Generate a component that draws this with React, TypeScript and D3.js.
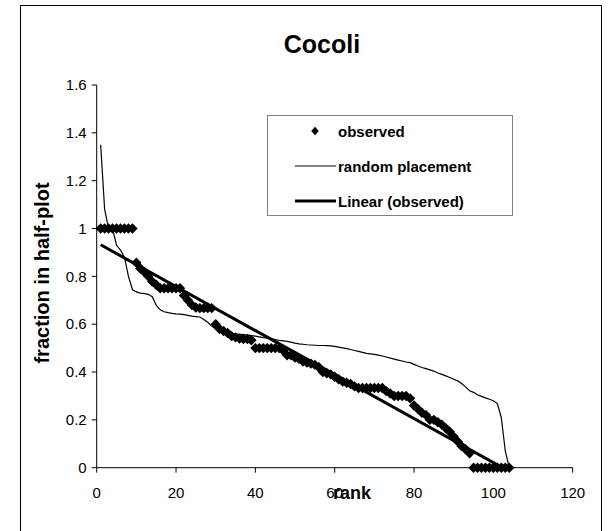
import React from "react";
import * as d3 from "d3";

const ranks: number[] = d3.range(1, 105);

const observed: number[] = [
  1, 1, 1, 1, 1, 1, 1, 1, 1,
  0.857, 0.833, 0.818, 0.8, 0.778, 0.765, 0.75, 0.75, 0.75, 0.75, 0.75, 0.75,
  0.72, 0.7, 0.68, 0.67, 0.667, 0.667, 0.667, 0.667,
  0.6, 0.58, 0.571, 0.563, 0.55, 0.545, 0.54, 0.538, 0.538, 0.533,
  0.5, 0.5, 0.5, 0.5, 0.5, 0.5, 0.5,
  0.49, 0.47, 0.47, 0.46, 0.455, 0.444, 0.44, 0.435, 0.43, 0.42,
  0.4, 0.395, 0.39, 0.38, 0.37, 0.36, 0.355, 0.35, 0.34,
  0.333, 0.333, 0.333, 0.333, 0.333, 0.333, 0.333,
  0.32, 0.31, 0.3, 0.3, 0.3, 0.3, 0.29, 0.26, 0.245, 0.23, 0.22, 0.2, 0.2,
  0.19, 0.18, 0.165, 0.15, 0.13, 0.11, 0.09, 0.077, 0.06,
  0, 0, 0, 0, 0, 0, 0, 0, 0, 0,
];

const randomPlacement: number[] = [
  1.35, 1.08, 1.0, 1.0, 0.93, 0.91, 0.88, 0.8, 0.745, 0.735,
  0.73, 0.728, 0.725, 0.715, 0.68, 0.66, 0.652, 0.648, 0.645, 0.643,
  0.642, 0.64, 0.637, 0.634, 0.632, 0.63, 0.62, 0.608, 0.592, 0.58,
  0.572, 0.567, 0.564, 0.562, 0.56, 0.558, 0.556, 0.554, 0.552, 0.55,
  0.547, 0.544, 0.542, 0.54, 0.536, 0.532, 0.53, 0.528, 0.525, 0.521,
  0.518, 0.516, 0.514, 0.513, 0.512, 0.511, 0.511, 0.51, 0.509, 0.507,
  0.504, 0.501, 0.498, 0.494, 0.49, 0.486, 0.482, 0.478, 0.476, 0.474,
  0.471, 0.467, 0.463, 0.458, 0.454, 0.45, 0.446, 0.442, 0.439, 0.432,
  0.425, 0.419, 0.414, 0.409, 0.404, 0.396, 0.39, 0.384, 0.377, 0.37,
  0.363, 0.352, 0.338, 0.322, 0.315, 0.305, 0.298, 0.292, 0.286, 0.28,
  0.268, 0.21, 0.07, 0,
];

const xTicks: number[] = [0, 20, 40, 60, 80, 100, 120];
const yTicks: number[] = [0, 0.2, 0.4, 0.6, 0.8, 1, 1.2, 1.4, 1.6];
const title = "Cocoli";
const xTitle = "rank";
const yTitle = "fraction in half-plot";
const legendLabels: string[] = ["observed", "random placement", "Linear (observed)"];

const W = 610;
const H = 531;
const FONT = "Arial, 'Liberation Sans', Helvetica, sans-serif";

export default function App() {
  const x = d3.scaleLinear().domain([0, 120]).range([96.7, 572.7]);
  const y = d3.scaleLinear().domain([0, 1.6]).range([467.7, 85]);

  // least squares fit
  const mx = d3.mean(ranks) as number;
  const my = d3.mean(observed) as number;
  let sxy = 0;
  let sxx = 0;
  ranks.forEach((r, i) => {
    sxy += (r - mx) * (observed[i] - my);
    sxx += (r - mx) * (r - mx);
  });
  const slope = sxy / sxx;
  const intercept = my - slope * mx;
  const fit = (r: number) => intercept + slope * r;
  const r0 = ranks[0];
  const r1 = ranks[ranks.length - 1];

  const randLine = d3
    .line<number>()
    .x((_, i) => x(ranks[i]))
    .y((v) => y(v))(randomPlacement) as string;

  const diamond = (h: number, w: number) => `M0,${-h}L${w},0L0,${h}L${-w},0Z`;

  const lg = { x: 267, y: 115, w: 245, h: 100 };
  const rows = [131, 166, 201];

  return (
    <svg
      width={W}
      height={H}
      style={{ position: "absolute", left: 0, top: 0, background: "#fff" }}
      fontFamily={FONT}
    >
      <rect x={0} y={0} width={W} height={H} fill="#fff" />
      <rect x={20.5} y={5.5} width={581} height={540} fill="none" stroke="#000" strokeWidth={1} />
      <defs>
        <clipPath id="plotclip">
          <rect x={x(0)} y={y(1.6)} width={x(120) - x(0)} height={y(0) - y(1.6)} />
        </clipPath>
      </defs>

      <text x={322} y={53} textAnchor="middle" fontSize={25} fontWeight="bold">
        {title}
      </text>

      {/* axes */}
      <line x1={x(0)} x2={x(0)} y1={y(1.6)} y2={y(0)} stroke="#000" strokeWidth={1} />
      <line x1={x(0)} x2={x(120)} y1={y(0)} y2={y(0)} stroke="#000" strokeWidth={1} />
      {yTicks.map((t) => (
        <g key={"yt" + t}>
          <line x1={x(0) - 5} x2={x(0)} y1={y(t)} y2={y(t)} stroke="#000" />
          <text x={x(0) - 10} y={y(t) + 5.3} textAnchor="end" fontSize={15}>
            {String(t)}
          </text>
        </g>
      ))}
      {xTicks.map((t) => (
        <g key={"xt" + t}>
          <line x1={x(t)} x2={x(t)} y1={y(0)} y2={y(0) + 5} stroke="#000" />
          <text x={x(t)} y={497.7} textAnchor="middle" fontSize={15}>
            {String(t)}
          </text>
        </g>
      ))}

      <text x={352} y={499} textAnchor="middle" fontSize={18} fontWeight="bold">
        {xTitle}
      </text>
      <text
        transform={`translate(49,273) rotate(-90)`}
        textAnchor="middle"
        fontSize={20}
        fontWeight="bold"
      >
        {yTitle}
      </text>

      <g clipPath="url(#plotclip)">
        <path d={randLine} fill="none" stroke="#000" strokeWidth={1.2} />
        <line
          x1={x(r0)}
          y1={y(fit(r0))}
          x2={x(r1)}
          y2={y(fit(r1))}
          stroke="#000"
          strokeWidth={3}
        />
      </g>
      {observed.map((v, i) => (
        <path
          key={"o" + i}
          d={diamond(5.2, 5.2)}
          transform={`translate(${x(ranks[i])},${y(v)})`}
          fill="#000"
        />
      ))}

      {/* legend */}
      <rect
        x={lg.x + 0.5}
        y={lg.y + 0.5}
        width={lg.w}
        height={lg.h}
        fill="#fff"
        stroke="#808080"
        strokeWidth={1}
      />
      <path d={diamond(4.2, 3.8)} transform={`translate(315,${rows[0]})`} fill="#000" />
      <line x1={295} x2={336} y1={rows[1]} y2={rows[1]} stroke="#000" strokeWidth={1.2} />
      <line x1={295} x2={336} y1={rows[2]} y2={rows[2]} stroke="#000" strokeWidth={3} />
      {legendLabels.map((l, i) => (
        <text key={l} x={338} y={rows[i] + 5.5} fontSize={15} fontWeight="bold">
          {l}
        </text>
      ))}
    </svg>
  );
}
